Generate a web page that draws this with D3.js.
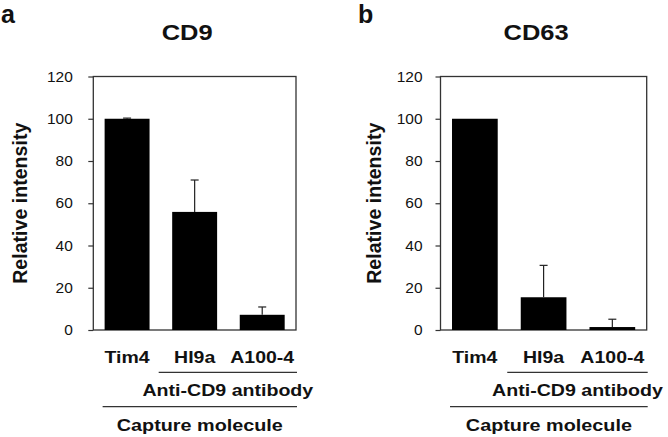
<!DOCTYPE html>
<html>
<head>
<meta charset="utf-8">
<script src="https://cdn.jsdelivr.net/npm/d3@7"></script>
<style>
  body { margin: 0; background: #fff; }
  svg { display: block; font-family: "Liberation Sans", Arial, sans-serif; }
</style>
</head>
<body>
<div id="chart"></div>
<script>
// values
var categories = ["Tim4", "HI9a", "A100-4"];
var cd9Means = [100, 55.9, 7.2];
var cd9Errors = [0.3, 15.1, 3.7];
var cd63Means = [100, 15.5, 1.4];
var cd63Errors = [0, 15.1, 3.7];
var yTicks = [0, 20, 40, 60, 80, 100, 120];

var width = 668, height = 437;

var svg = d3.select("#chart").append("svg")
    .attr("width", width)
    .attr("height", height);

// squashed text (the source figure is slightly compressed vertically)
function label(g, x, y, txt, size, weight, anchor, sy) {
  return g.append("text")
      .attr("transform", "translate(" + x + "," + y + ") scale(1," + sy + ")")
      .attr("text-anchor", anchor)
      .style("font-size", size + "px")
      .style("font-weight", weight)
      .attr("fill", "#111")
      .text(txt);
}

var panels = [
  {letter: "a", letterX: 1, title: "CD9", means: cd9Means, errors: cd9Errors,
   left: 93.3, right: 296, ylabX: 26.7, tickGap: 20.5},
  {letter: "b", letterX: 358, title: "CD63", means: cd63Means, errors: cd63Errors,
   left: 440.5, right: 646.7, ylabX: 380.7, tickGap: 18}
];

var plotTop = 76.5, plotBottom = 330;

panels.forEach(function(p) {
  var g = svg.append("g");

  var x = d3.scaleBand()
      .domain(categories)
      .range([p.left, p.right])
      .paddingInner(0.335)
      .paddingOuter(0.1675);

  var y = d3.scaleLinear()
      .domain([0, 120])
      .range([plotBottom, plotTop]);

  // panel letter
  g.append("text")
      .attr("x", p.letterX)
      .attr("y", 22.5)
      .style("font-size", "25px")
      .style("font-weight", "bold")
      .attr("fill", "#111")
      .text(p.letter);

  // title
  label(g, (p.left + p.right) / 2 - 7.5, 39.5, p.title, 25.5, "bold", "middle", 0.84);

  // frame
  g.append("rect")
      .attr("x", p.left)
      .attr("y", plotTop)
      .attr("width", p.right - p.left)
      .attr("height", plotBottom - plotTop)
      .attr("fill", "none")
      .attr("stroke", "#333")
      .attr("stroke-width", 1.3);

  // tick marks
  var yAxis = d3.axisLeft(y)
      .tickValues(yTicks)
      .tickSize(5)
      .tickSizeOuter(0)
      .tickFormat("");
  var ax = g.append("g")
      .attr("transform", "translate(" + p.left + ",0)")
      .call(yAxis);
  ax.select(".domain").remove();
  ax.selectAll(".tick line").attr("stroke", "#333").attr("stroke-width", 1.2);

  // tick labels
  yTicks.forEach(function(t) {
    label(g, p.left - p.tickGap, y(t) + 5.2, t, 15.5, "normal", "end", 0.9);
  });

  // y axis title
  g.append("text")
      .attr("transform", "translate(" + p.ylabX + "," + (plotTop + plotBottom) / 2 + ") rotate(-90)")
      .attr("text-anchor", "middle")
      .style("font-size", "19.6px")
      .style("font-weight", "bold")
      .attr("fill", "#111")
      .text("Relative intensity");

  // bars
  g.selectAll(".bar")
      .data(categories)
    .enter().append("rect")
      .attr("class", "bar")
      .attr("x", function(d) { return x(d); })
      .attr("y", function(d, i) { return y(p.means[i]); })
      .attr("width", x.bandwidth())
      .attr("height", function(d, i) { return y(0) - y(p.means[i]); })
      .attr("fill", "#000");

  // error bars (upper only)
  var eb = g.selectAll(".err")
      .data(categories.filter(function(d, i) { return p.errors[i] > 0; }))
    .enter().append("g")
      .attr("class", "err");
  function topOf(d) {
    var i = categories.indexOf(d);
    return y(p.means[i] + p.errors[i]);
  }
  eb.append("line")
      .attr("x1", function(d) { return x(d) + x.bandwidth() / 2; })
      .attr("x2", function(d) { return x(d) + x.bandwidth() / 2; })
      .attr("y1", function(d) { return y(p.means[categories.indexOf(d)]); })
      .attr("y2", topOf)
      .attr("stroke", "#222")
      .attr("stroke-width", 1.2);
  eb.append("line")
      .attr("x1", function(d) { return x(d) + x.bandwidth() / 2 - 4; })
      .attr("x2", function(d) { return x(d) + x.bandwidth() / 2 + 4; })
      .attr("y1", topOf)
      .attr("y2", topOf)
      .attr("stroke", "#222")
      .attr("stroke-width", 1.2);

  // category labels
  categories.forEach(function(c) {
    label(g, x(c) + x.bandwidth() / 2, 362.7, c, 19.5, "bold", "middle", 0.82);
  });

  // grouping lines and labels
  var l1a = x(categories[1]) - 13.5, l1b = p.right + 1;
  var l2a = x(categories[0]) - 2, l2b = p.right + 1;
  g.append("line")
      .attr("x1", l1a).attr("x2", l1b)
      .attr("y1", 372.3).attr("y2", 372.3)
      .attr("stroke", "#333").attr("stroke-width", 1.3);
  label(g, (l1a + l1b) / 2, 395.5, "Anti-CD9 antibody", 19.6, "bold", "middle", 0.82);
  g.append("line")
      .attr("x1", l2a).attr("x2", l2b)
      .attr("y1", 406.7).attr("y2", 406.7)
      .attr("stroke", "#333").attr("stroke-width", 1.3);
  label(g, (l2a + l2b) / 2, 430.7, "Capture molecule", 19.8, "bold", "middle", 0.82);
});
</script>
</body>
</html>
